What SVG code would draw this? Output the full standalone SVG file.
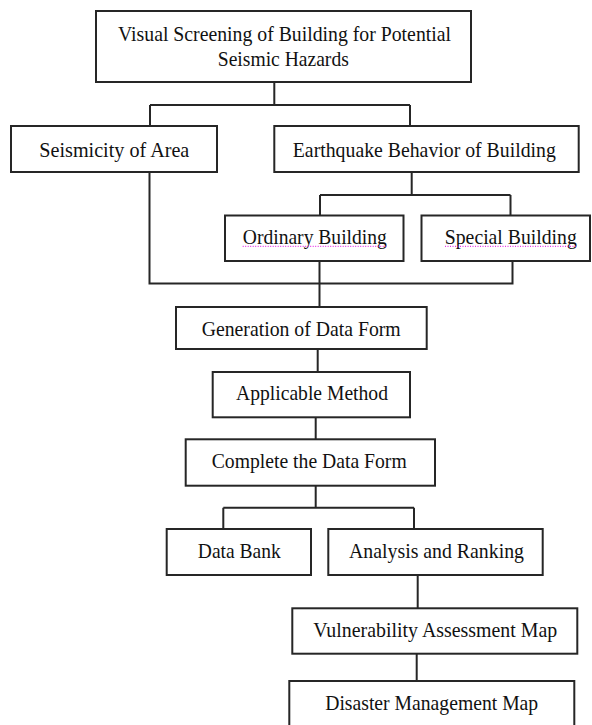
<svg xmlns="http://www.w3.org/2000/svg" width="592" height="725" viewBox="0 0 592 725">
<style>
.box{fill:#fff;stroke:#262626;stroke-width:2}
.con{fill:none;stroke:#262626;stroke-width:2}
.t{font-family:"Liberation Serif","Times New Roman",serif;font-size:22px;fill:#111;text-anchor:middle}
.ul{stroke:#e000e0;stroke-width:1;stroke-dasharray:1 1.5}
</style>
<rect width="592" height="725" fill="#fff"/>
<g id="connectors">
<path class="con" d="M274.3 82V105M150 105H410M150 105V126M410 105V126"/>
<path class="con" d="M411.7 172V195M320 195H510.5M320 195V215.5M510.5 195V215.5"/>
<path class="con" d="M149.5 172V283.5H512.5V261"/>
<path class="con" d="M319.5 261V307"/>
<path class="con" d="M317.7 349V372"/>
<path class="con" d="M315.7 417.3V439.3"/>
<path class="con" d="M315.7 485.7V507.7M223.3 507.7H414M223.3 507.7V529M414 507.7V529"/>
<path class="con" d="M417.7 575V608.3"/>
<path class="con" d="M416.7 653.7V681"/>
</g>
<g id="visual-screening">
<rect class="box" x="96" y="11" width="375" height="71"/>
<text class="t" x="284.5" y="40.7" textLength="333" lengthAdjust="spacingAndGlyphs">Visual Screening of Building for Potential</text>
<text class="t" x="283.3" y="66" textLength="131" lengthAdjust="spacingAndGlyphs">Seismic Hazards</text>
</g>
<g id="seismicity">
<rect class="box" x="11" y="126" width="206" height="46"/>
<text class="t" x="114.3" y="156.7" textLength="150" lengthAdjust="spacingAndGlyphs">Seismicity of Area</text>
</g>
<g id="earthquake-behavior">
<rect class="box" x="274.3" y="126" width="304.4" height="46"/>
<text class="t" x="424.3" y="156.5" textLength="263" lengthAdjust="spacingAndGlyphs">Earthquake Behavior of Building</text>
</g>
<g id="ordinary-building">
<rect class="box" x="225" y="215.5" width="178.5" height="45.5"/>
<text class="t" x="314.8" y="244" textLength="144" lengthAdjust="spacingAndGlyphs">Ordinary Building</text>
<line class="ul" x1="242.7" y1="246.3" x2="387" y2="246.3"/>
</g>
<g id="special-building">
<rect class="box" x="421.5" y="215.5" width="168.5" height="45.5"/>
<text class="t" x="510.8" y="244" textLength="132" lengthAdjust="spacingAndGlyphs">Special Building</text>
<line class="ul" x1="445" y1="246.3" x2="576.7" y2="246.3"/>
</g>
<g id="generation">
<rect class="box" x="176" y="307" width="250.7" height="42"/>
<text class="t" x="301.2" y="336" textLength="199" lengthAdjust="spacingAndGlyphs">Generation of Data Form</text>
</g>
<g id="applicable-method">
<rect class="box" x="212.7" y="372" width="197.3" height="45.3"/>
<text class="t" x="312" y="400.3" textLength="152" lengthAdjust="spacingAndGlyphs">Applicable Method</text>
</g>
<g id="complete-form">
<rect class="box" x="185.7" y="439.3" width="249.3" height="46.4"/>
<text class="t" x="309.2" y="468.3" textLength="195" lengthAdjust="spacingAndGlyphs">Complete the Data Form</text>
</g>
<g id="data-bank">
<rect class="box" x="166.7" y="529" width="144.3" height="46"/>
<text class="t" x="239.3" y="558" textLength="83" lengthAdjust="spacingAndGlyphs">Data Bank</text>
</g>
<g id="analysis-ranking">
<rect class="box" x="328.3" y="529" width="214.4" height="46"/>
<text class="t" x="436.5" y="558" textLength="175" lengthAdjust="spacingAndGlyphs">Analysis and Ranking</text>
</g>
<g id="vulnerability-map">
<rect class="box" x="292.3" y="608.3" width="285" height="45.4"/>
<text class="t" x="435.2" y="636.7" textLength="244" lengthAdjust="spacingAndGlyphs">Vulnerability Assessment Map</text>
</g>
<g id="disaster-map">
<rect class="box" x="289.3" y="681" width="285" height="60"/>
<text class="t" x="431.7" y="710" textLength="213" lengthAdjust="spacingAndGlyphs">Disaster Management Map</text>
</g>
</svg>
